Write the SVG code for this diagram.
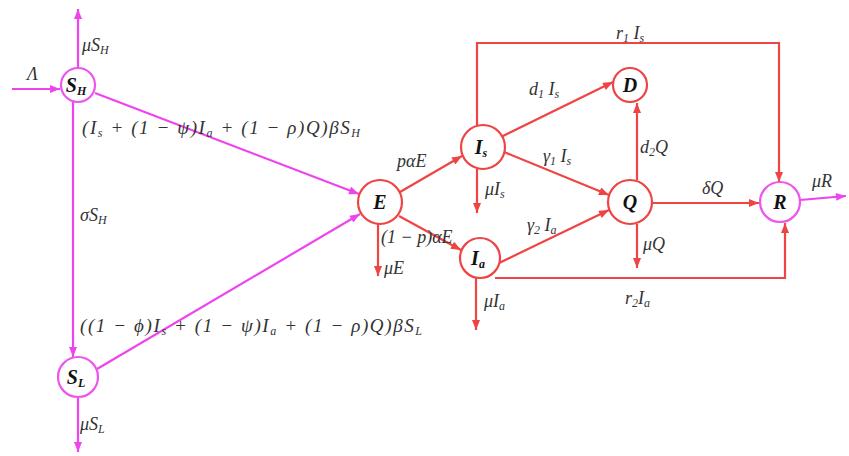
<svg xmlns="http://www.w3.org/2000/svg" width="849" height="456" viewBox="0 0 849 456">
<style>
.m{stroke:#ee44ee;stroke-width:2.2;fill:none}
.r{stroke:#ee4444;stroke-width:2.2;fill:none}
.nm{stroke:#ee55ee;stroke-width:2.2;fill:#fff}
.nr{stroke:#ee4444;stroke-width:2.2;fill:#fff}
.nl{font-family:"Liberation Serif",serif;font-style:italic;font-weight:bold;font-size:20px;fill:#111;text-anchor:middle}
.t{font-family:"Liberation Serif",serif;font-style:italic;font-size:18px;fill:#333}
.big{font-size:19px}
.s{font-size:12px}
</style>
<defs>
<marker id="am" viewBox="0 0 10 8" refX="10" refY="4" markerWidth="11" markerHeight="8" markerUnits="userSpaceOnUse" orient="auto"><path d="M0,0L10,4L0,8z" fill="#ee44ee"/></marker>
<marker id="ar" viewBox="0 0 10 8" refX="10" refY="4" markerWidth="11" markerHeight="8" markerUnits="userSpaceOnUse" orient="auto"><path d="M0,0L10,4L0,8z" fill="#ee4444"/></marker>
</defs>
<g id="connectors">
<path class="m" d="M12,89H60" marker-end="url(#am)"/>
<path class="m" d="M78,68V9" marker-end="url(#am)"/>
<path class="m" d="M73,101V357" marker-end="url(#am)"/>
<path class="m" d="M78,397V452" marker-end="url(#am)"/>
<path class="m" d="M95,93L359,194" marker-end="url(#am)"/>
<path class="m" d="M97,369L360,214" marker-end="url(#am)"/>
<path class="r" d="M400,192L462,156" marker-end="url(#ar)"/>
<path class="r" d="M399,216L461,250" marker-end="url(#ar)"/>
<path class="r" d="M378,224V276" marker-end="url(#ar)"/>
<path class="r" d="M477,169V213" marker-end="url(#ar)"/>
<path class="r" d="M476,278V330" marker-end="url(#ar)"/>
<path class="r" d="M501,137L613,82" marker-end="url(#ar)"/>
<path class="r" d="M504,152L609,195" marker-end="url(#ar)"/>
<path class="r" d="M499,263L609,210" marker-end="url(#ar)"/>
<path class="r" d="M637,180V103" marker-end="url(#ar)"/>
<path class="r" d="M637,224V268" marker-end="url(#ar)"/>
<path class="r" d="M652,203H759" marker-end="url(#ar)"/>
<path class="r" d="M477,125V43H779V182" marker-end="url(#ar)"/>
<path class="r" d="M495,278H785V223" marker-end="url(#ar)"/>
<path class="m" d="M800,200L846,196" marker-end="url(#am)"/>
</g>
<g id="SH"><circle class="nm" cx="78" cy="85" r="17"/><text class="nl" x="76" y="92">S<tspan class="s" dy="3">H</tspan></text></g>
<g id="SL"><circle class="nm" cx="78" cy="377" r="20"/><text class="nl" x="76" y="384">S<tspan class="s" dy="3">L</tspan></text></g>
<g id="E"><circle class="nr" cx="380" cy="202" r="22"/><text class="nl" x="380" y="209">E</text></g>
<g id="Is"><circle class="nr" cx="483" cy="147" r="22"/><text class="nl" x="481" y="154">I<tspan class="s" dy="3">s</tspan></text></g>
<g id="Ia"><circle class="nr" cx="480" cy="258" r="20"/><text class="nl" x="478" y="265">I<tspan class="s" dy="3">a</tspan></text></g>
<g id="D"><circle class="nr" cx="630" cy="85" r="17"/><text class="nl" x="630" y="92">D</text></g>
<g id="Q"><circle class="nr" cx="630" cy="202" r="22"/><text class="nl" x="630" y="209">Q</text></g>
<g id="R"><circle class="nm" cx="780" cy="202" r="20"/><text class="nl" x="780" y="209">R</text></g>
<g id="labels">
<text class="t" x="27" y="80">Λ</text>
<text class="t" x="82" y="51">μS<tspan class="s" dy="3">H</tspan></text>
<text class="t" x="80" y="221">σS<tspan class="s" dy="3">H</tspan></text>
<text class="t" x="80" y="430">μS<tspan class="s" dy="3">L</tspan></text>
<text class="t big" x="82" y="134" textLength="278">(I<tspan class="s" dy="3">s</tspan><tspan dy="-3"> + (1 − ψ)I</tspan><tspan class="s" dy="3">a</tspan><tspan dy="-3"> + (1 − ρ)Q)βS</tspan><tspan class="s" dy="3">H</tspan></text>
<text class="t big" x="80" y="332" textLength="342">((1 − ϕ)I<tspan class="s" dy="3">s</tspan><tspan dy="-3"> + (1 − ψ)I</tspan><tspan class="s" dy="3">a</tspan><tspan dy="-3"> + (1 − ρ)Q)βS</tspan><tspan class="s" dy="3">L</tspan></text>
<text class="t" x="397" y="167">pαE</text>
<text class="t" x="381" y="243">(1 − p)αE</text>
<text class="t" x="384" y="274">μE</text>
<text class="t" x="485" y="195">μI<tspan class="s" dy="3">s</tspan></text>
<text class="t" x="484" y="307">μI<tspan class="s" dy="3">a</tspan></text>
<text class="t" x="529" y="95">d<tspan class="s" dy="3">1</tspan><tspan dy="-3"> I</tspan><tspan class="s" dy="3">s</tspan></text>
<text class="t" x="543" y="162">γ<tspan class="s" dy="3">1</tspan><tspan dy="-3"> I</tspan><tspan class="s" dy="3">s</tspan></text>
<text class="t" x="527" y="231">γ<tspan class="s" dy="3">2</tspan><tspan dy="-3"> I</tspan><tspan class="s" dy="3">a</tspan></text>
<text class="t" x="640" y="153">d<tspan class="s" dy="3">2</tspan><tspan dy="-3">Q</tspan></text>
<text class="t" x="643" y="250">μQ</text>
<text class="t" x="702" y="194">δQ</text>
<text class="t" x="812" y="187">μR</text>
<text class="t" x="616" y="39">r<tspan class="s" dy="3">1</tspan><tspan dy="-3"> I</tspan><tspan class="s" dy="3">s</tspan></text>
<text class="t" x="625" y="304">r<tspan class="s" dy="3">2</tspan><tspan dy="-3">I</tspan><tspan class="s" dy="3">a</tspan></text>
</g>
</svg>
